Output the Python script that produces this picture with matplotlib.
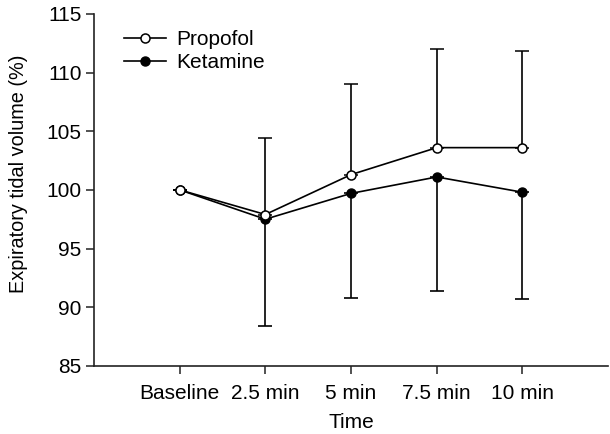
import matplotlib
matplotlib.use('Agg')
import matplotlib.pyplot as plt
from matplotlib.lines import Line2D
import numpy as np

# valores
time_labels = ['Baseline', '2.5 min', '5 min', '7.5 min', '10 min']
propofol = [100.0, 97.9, 101.3, 103.6, 103.6]
ketamine = [100.0, 97.5, 99.7, 101.1, 99.8]
propofol_top = [100.0, 104.4, 109.0, 112.0, 111.8]   # ponta superior da barra de erro
ketamine_bottom = [100.0, 88.4, 90.8, 91.4, 90.7]    # ponta inferior da barra de erro

plt.rcParams['font.family'] = ['Liberation Sans', 'DejaVu Sans']
plt.rcParams['font.size'] = 15

x = np.arange(1, len(time_labels) + 1)
p = np.array(propofol)
k = np.array(ketamine)
p_err = [np.zeros_like(p), np.array(propofol_top) - p]
k_err = [k - np.array(ketamine_bottom), np.zeros_like(k)]

fig = plt.figure(figsize=(6.10, 4.34), dpi=100)
ax = fig.add_axes([0.154, 0.157, 0.843, 0.811])

ax.errorbar(x, k, yerr=k_err, color='black', lw=1.2, elinewidth=1.2, capsize=5,
            capthick=1.2, marker='o', ms=6.5, mfc='black', mec='black', zorder=2)
ax.errorbar(x, p, yerr=p_err, color='black', lw=1.2, elinewidth=1.2, capsize=5,
            capthick=1.2, marker='o', ms=6.5, mfc='white', mec='black', mew=1.1, zorder=3)

ax.set_xlim(0, 6)
ax.set_ylim(85, 115)
ax.set_yticks(np.arange(85, 116, 5))
ax.set_xticks(x)
ax.set_xticklabels(time_labels)

for s in ['top', 'right']:
    ax.spines[s].set_visible(False)
for s in ['left', 'bottom']:
    ax.spines[s].set_color('#222222')
    ax.spines[s].set_linewidth(1.2)
ax.tick_params(axis='both', direction='out', length=6, width=1.1, color='#222222')
ax.tick_params(axis='x', pad=7)
ax.tick_params(axis='y', pad=3)

ax.set_xlabel('Time', labelpad=7)
ax.set_ylabel('Expiratory tidal volume (%)', fontsize=14.3)
ax.yaxis.set_label_coords(-0.128, 0.545)

handles = [
    Line2D([], [], color='black', lw=1.2, marker='o', ms=6.5, mfc='white', mec='black', mew=1.1),
    Line2D([], [], color='black', lw=1.2, marker='o', ms=6.5, mfc='black', mec='black'),
]
ax.legend(handles, ['Propofol', 'Ketamine'], loc='upper left', bbox_to_anchor=(0.035, 0.99),
          frameon=False, handlelength=2.0, handletextpad=0.5, labelspacing=0.2,
          borderaxespad=0.2)

fig.savefig('out.png', dpi=100)
